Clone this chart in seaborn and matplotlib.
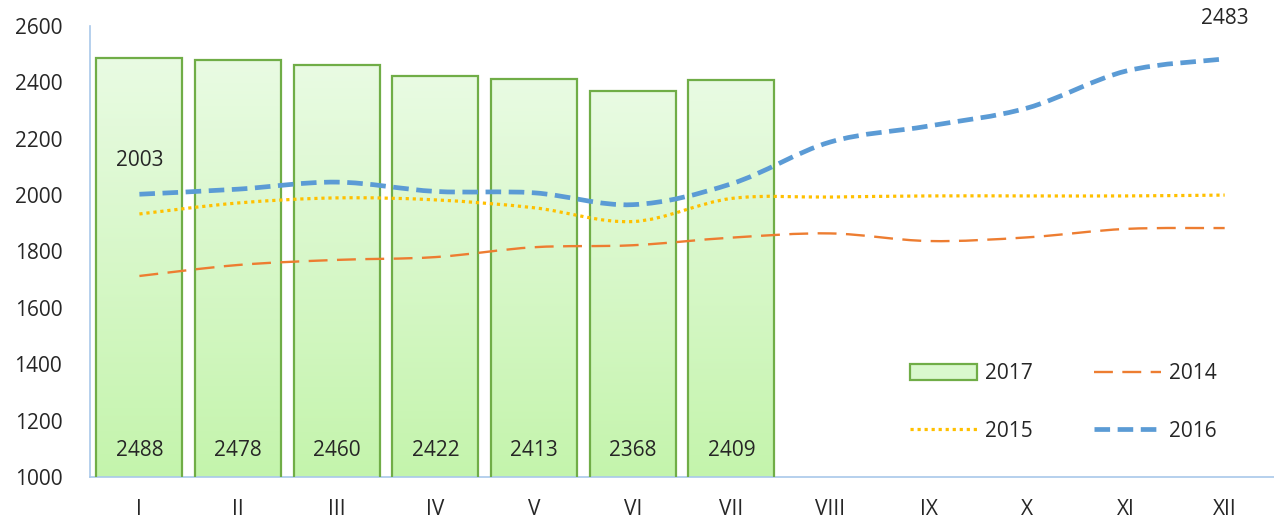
"""
Monthly index 2014-2017: bars for 2017, smoothed lines for earlier years.
"""

import matplotlib
matplotlib.use("Agg")
import matplotlib.pyplot as plt
import numpy as np
import pandas as pd
import seaborn as sns
from matplotlib.lines import Line2D
from matplotlib.patches import PathPatch, Rectangle
from matplotlib.path import Path
from matplotlib.ticker import FixedLocator

# ── Data ────────────────────────────────────────────────────────────────────
months = ["I", "II", "III", "IV", "V", "VI", "VII", "VIII", "IX", "X", "XI", "XII"]
values_2017 = [2488, 2478, 2460, 2422, 2413, 2368, 2409]
values_2014 = [1713, 1752, 1770, 1780, 1815, 1822, 1849, 1864, 1837, 1850, 1880, 1883]
values_2015 = [1933, 1972, 1990, 1983, 1955, 1906, 1988, 1993, 1997, 1997, 1997, 2000]
values_2016 = [2003, 2021, 2046, 2013, 2008, 1966, 2040, 2188, 2245, 2309, 2440, 2483]

# ── Styling ─────────────────────────────────────────────────────────────────
sns.set_style("white")
FONT = ["Open Sans", "DejaVu Sans"]
plt.rcParams["font.family"] = FONT
plt.rcParams["font.size"] = 15
TEXT = "#262626"
AXIS = "#A9C8EA"
GREEN_EDGE = "#70AD47"


def smooth_path(xs, ys):
    """Catmull-Rom style Bezier path through the points (like Excel smoothing)."""
    pts = np.column_stack([xs, ys]).astype(float)
    n = len(pts)
    verts = [pts[0]]
    codes = [Path.MOVETO]
    for i in range(n - 1):
        p0 = pts[max(i - 1, 0)]
        p1 = pts[i]
        p2 = pts[i + 1]
        p3 = pts[min(i + 2, n - 1)]
        c1 = p1 + (p2 - p0) / 6.0
        c2 = p2 - (p3 - p1) / 6.0
        verts += [c1, c2, p2]
        codes += [Path.CURVE4] * 3
    return Path(verts, codes)


fig = plt.figure(figsize=(12.74, 5.19), dpi=100)
ax = fig.add_axes([0.0707, 0.081, 0.9293, 0.869])

# Bars (2017)
bar_df = pd.DataFrame({"month": months[: len(values_2017)], "value": values_2017})
sns.barplot(data=bar_df, x="month", y="value", order=months, ax=ax,
            width=0.87, facecolor="none", edgecolor=GREEN_EDGE, linewidth=1.6,
            zorder=3)

# gradient fill clipped to each bar
grad = np.linspace(0, 1, 256).reshape(-1, 1)
cmap = matplotlib.colors.LinearSegmentedColormap.from_list(
    "g", ["#C4F4AC", "#E9FBE3"])
for patch in ax.patches:
    x0, y0 = patch.get_x(), patch.get_y()
    w, h = patch.get_width(), patch.get_height()
    if h == 0 or np.isnan(h):
        continue
    im = ax.imshow(grad, cmap=cmap, origin="lower", aspect="auto",
                   extent=[x0, x0 + w, 1000, y0 + h], zorder=2)
    im.set_clip_path(patch)

# Lines (smoothed)
x = np.arange(len(months))
line_styles = {
    "2014": dict(ys=values_2014, color="#ED7D31", lw=1.7, ls=(0, (8, 4))),
    "2015": dict(ys=values_2015, color="#FFC000", lw=2.3, ls=(0, (1, 1.2))),
    "2016": dict(ys=values_2016, color="#5B9BD5", lw=3.4, ls=(0, (3.3, 1.6))),
}
for name, st in line_styles.items():
    pp = PathPatch(smooth_path(x, st["ys"]), fill=False, edgecolor=st["color"],
                   linewidth=st["lw"], linestyle=st["ls"], zorder=4,
                   capstyle="butt")
    ax.add_patch(pp)

# Data labels
for i, v in enumerate(values_2017):
    ax.annotate(f"{v}", (i, 1000), xytext=(0, 19), textcoords="offset points",
                ha="center", va="center", color=TEXT, fontsize=15, zorder=5)
ax.annotate(f"{values_2016[0]}", (0, values_2016[0]), xytext=(0, 24),
            textcoords="offset points", ha="center", va="center",
            color=TEXT, fontsize=15)
ax.annotate(f"{values_2016[-1]}", (11, values_2016[-1]), xytext=(0, 29),
            textcoords="offset points", ha="center", va="center",
            color=TEXT, fontsize=15)

# Axes
ax.set_xlim(-0.5, 11.5)
ax.set_ylim(1000, 2600)
ax.set_yticks(np.arange(1000, 2601, 200))
ax.set_xlabel("")
ax.set_ylabel("")
ax.xaxis.set_major_locator(FixedLocator(np.arange(-0.5, 11.6, 1)))
ax.xaxis.set_minor_locator(FixedLocator(x))
ax.set_xticklabels([""] * 13)
ax.set_xticklabels(months, minor=True, fontfamily=FONT)
ax.tick_params(axis="x", which="major", length=7, width=1.2, color=AXIS,
               direction="inout")
ax.tick_params(axis="x", which="minor", length=0, pad=16, labelsize=15,
               labelcolor=TEXT)
ax.tick_params(axis="y", length=7, width=1.2, color=AXIS, direction="out",
               pad=13, labelsize=15, labelcolor=TEXT)
for lbl in ax.get_yticklabels():
    lbl.set_fontfamily(FONT)
for side in ["top", "right"]:
    ax.spines[side].set_visible(False)
for side in ["left", "bottom"]:
    ax.spines[side].set_color(AXIS)
    ax.spines[side].set_linewidth(1.2)
ax.grid(False)

# Legend
handles = [
    Rectangle((0, 0), 1, 1, facecolor="#D9F8CD", edgecolor=GREEN_EDGE, lw=1.6),
    Line2D([], [], color="#FFC000", lw=2.3, ls=(0, (1, 1.2))),
    Line2D([], [], color="#ED7D31", lw=1.7, ls=(0, (8, 4))),
    Line2D([], [], color="#5B9BD5", lw=3.4, ls=(0, (3.3, 1.6))),
]
labels = ["2017", "2015", "2014", "2016"]
fig.legend(handles, labels, loc="upper left", bbox_to_anchor=(0.706, 0.32),
           ncol=2, frameon=False, handlelength=3.2, handleheight=0.8,
           columnspacing=2.95, labelspacing=1.75, handletextpad=0.4,
           borderpad=0, fontsize=15, labelcolor=TEXT)

fig.savefig("out.png", dpi=100)
plt.close(fig)
